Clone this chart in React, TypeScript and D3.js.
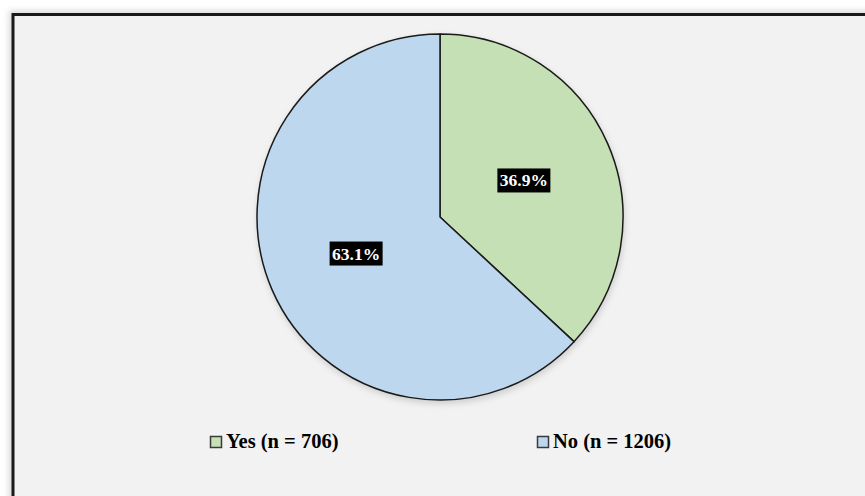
import React from "react";
import * as d3 from "d3";

const categories = ["Yes", "No"];
const counts = [706, 1206];
const percentLabels = ["36.9%", "63.1%"];
const legendLabels = ["Yes (n = 706)", "No (n = 1206)"];
const colors = ["#c5e0b4", "#bdd7ee"];

const W = 865;
const H = 496;
const cx = 440;
const cy = 217;
const R = 183;

export default function App() {
  const pie = d3
    .pie<number>()
    .sort(null)
    .startAngle(0)
    .endAngle(2 * Math.PI)
    .value((d) => d);
  const arcs = pie(counts);
  const arc = d3.arc<d3.PieArcDatum<number>>().innerRadius(0).outerRadius(R);
  const labelArc = d3
    .arc<d3.PieArcDatum<number>>()
    .innerRadius(R * 0.5)
    .outerRadius(R * 0.5);

  const legendX = d3.scalePoint<string>().domain(categories).range([210, 537]);

  const serif = "'Liberation Serif', 'Times New Roman', serif";

  return (
    <svg
      width={W}
      height={H}
      style={{ position: "absolute", left: 0, top: 0, display: "block" }}
    >
      <defs>
        <filter id="frameShadow" x="-5%" y="-5%" width="110%" height="110%">
          <feGaussianBlur stdDeviation="3" />
        </filter>
        <filter id="pieShadow" x="-20%" y="-20%" width="140%" height="140%">
          <feGaussianBlur stdDeviation="3" />
        </filter>
      </defs>
      <rect x={0} y={0} width={W} height={H} fill="#ffffff" />
      <rect
        x={9}
        y={11}
        width={W + 20}
        height={H + 20}
        fill="#d8d8d8"
        filter="url(#frameShadow)"
      />
      <rect
        x={13}
        y={14.5}
        width={W + 20}
        height={H + 20}
        fill="#f2f2f2"
        stroke="#1a1a1a"
        strokeWidth={3}
      />
      <g transform={`translate(${cx},${cy})`}>
        <circle cx={1} cy={3} r={R + 1} fill="#cfcfcf" filter="url(#pieShadow)" />
        {arcs.map((a, i) => (
          <path
            key={categories[i]}
            d={arc(a) || ""}
            fill={colors[i]}
            stroke="#1a1a1a"
            strokeWidth={1.5}
            strokeLinejoin="round"
          />
        ))}
        {arcs.map((a, i) => {
          const [lx, ly] = labelArc.centroid(a);
          const bw = 53;
          const bh = 24;
          return (
            <g key={`lbl-${categories[i]}`} transform={`translate(${lx},${ly})`}>
              <rect x={-bw / 2} y={-bh / 2} width={bw} height={bh} fill="#000000" />
              <text
                x={0}
                y={6}
                textAnchor="middle"
                fill="#ffffff"
                fontFamily={serif}
                fontWeight="bold"
                fontSize={17.5}
              >
                {percentLabels[i]}
              </text>
            </g>
          );
        })}
      </g>
      {categories.map((c, i) => {
        const x = legendX(c) as number;
        return (
          <g key={`leg-${c}`}>
            <rect
              x={x + 0.5}
              y={436.5}
              width={11}
              height={11}
              fill={colors[i]}
              stroke="#3a3a3a"
              strokeWidth={1.5}
            />
            <text
              x={x + 16}
              y={448}
              fontFamily={serif}
              fontWeight="bold"
              fontSize={20.5}
              fill="#000000"
            >
              {legendLabels[i]}
            </text>
          </g>
        );
      })}
    </svg>
  );
}
